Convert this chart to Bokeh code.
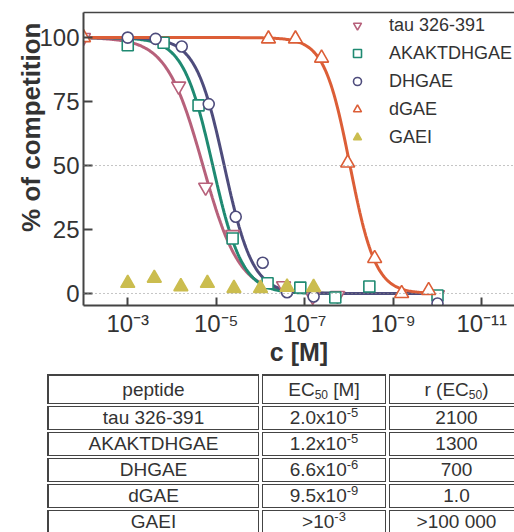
import numpy as np
from bokeh.plotting import figure
from bokeh.layouts import column
from bokeh.models import (Range1d, FixedTicker, CustomJSTickFormatter, Span, Legend,
                          LegendItem, LogAxis, Title, Div)
from bokeh.embed import file_html
from bokeh.resources import INLINE

FONT = "Liberation Sans"
TXT = "#333333"
AX = "#444444"

# ---------------- data ----------------
peptides = ["tau 326-391", "AKAKTDHGAE", "DHGAE", "dGAE", "GAEI"]
colors = ["#b7617b", "#1f8a72", "#4e4c7c", "#dc5e37", "#cbbd4f"]
markers = ["inverted_triangle", "square", "circle", "triangle", "triangle"]

# log10 of concentration [M] and % of competition
tau_logc = [-2.0, -4.15, -4.76, -5.37, -6.52, -7.18, -7.74, -10.0]
tau_pct = [100, 81, 41.5, 23, 3, -1.2, -0.8, -0.5]
akak_logc = [-3.0, -3.81, -4.6, -5.37, -6.16, -6.9, -7.69, -8.46, -10.0]
akak_pct = [97, 98, 73.5, 21.5, 4, 2.3, -1.6, 2.7, -0.8]
dhgae_logc = [-3.0, -3.63, -4.22, -4.83, -5.44, -6.05, -6.6, -7.2, -10.0]
dhgae_pct = [100, 99.5, 96.5, 74, 30, 12, 0.5, -1.2, -3.9]
dgae_logc = [-2.0, -6.18, -6.79, -7.38, -7.97, -8.58, -9.19, -9.8]
dgae_pct = [100, 99.5, 99.5, 92, 51, 13.7, 0, 1.2]
gaei_logc = [-3.0, -3.6, -4.2, -4.8, -5.4, -6.0, -6.6, -7.2]
gaei_pct = [4, 6, 2.7, 4, 2, 2, 2.5, 2.4]

# fitted dose-response parameters (EC50 [M], Hill slope) for the curves
fit_ec50 = [2.0e-5, 1.2e-5, 6.6e-6, 9.5e-9]
fit_hill = [1.05, 1.3, 1.35, 1.5]
fit_range = [-2.0, -9.85]

x_ticks = [1e-3, 1e-5, 1e-7, 1e-9, 1e-11]
y_ticks = [0, 25, 50, 75, 100]

SUB = "<sub style='font-size:12px; line-height:0; vertical-align:-3px;'>"
SUP = "<sup style='font-size:13px; line-height:0; vertical-align:7px;'>"
table_header = ["peptide", f"EC{SUB}50</sub> [M]", f"r (EC{SUB}50</sub>)"]
table_ec50 = [f"2.0x10{SUP}-5</sup>", f"1.2x10{SUP}-5</sup>", f"6.6x10{SUP}-6</sup>",
              f"9.5x10{SUP}-9</sup>", f"&gt;10{SUP}-3</sup>"]
table_r = ["2100", "1300", "700", "1.0", "&gt;100 000"]

series_x = [tau_logc, akak_logc, dhgae_logc, dgae_logc, gaei_logc]
series_y = [tau_pct, akak_pct, dhgae_pct, dgae_pct, gaei_pct]

# ---------------- chart ----------------
p = figure(width=514, height=372, x_axis_type="log",
           x_range=Range1d(10 ** -2.0, 10 ** -11.74), y_range=Range1d(-4.7, 109.8),
           output_backend="svg", toolbar_location=None,
           min_border_left=83, min_border_right=0, min_border_top=12, min_border_bottom=67)
p.outline_line_color = None
p.xgrid.visible = False
p.ygrid.visible = False
p.background_fill_color = "white"
p.border_fill_color = "white"

for yv in (0, 50):
    p.add_layout(Span(location=yv, dimension="width", line_color="#8a8a8a",
                      line_dash="1 3", line_width=1))

# fitted curves
lc = np.linspace(fit_range[0], fit_range[1], 300)
for ec, nh, col in zip(fit_ec50, fit_hill, colors):
    yc = 100.0 / (1.0 + 10 ** (nh * (np.log10(ec) - lc)))
    p.line(10 ** lc, yc, line_color=col, line_width=3)

items = []
sizes = [14, 11, 11, 14, 14]
for i, (name, col, mk) in enumerate(zip(peptides, colors, markers)):
    xs = [10 ** v for v in series_x[i]]
    filled = (name == "GAEI")
    r = p.scatter(xs, series_y[i], marker=mk, size=sizes[i], line_color=col,
                  fill_color=col if filled else "white", line_width=1.6)
    items.append(LegendItem(label=name, renderers=[r]))

legend = Legend(items=items, location=(264, 157), orientation="vertical",
                background_fill_alpha=0, border_line_color=None,
                label_text_font=FONT, label_text_font_size="18px", label_text_color=TXT,
                glyph_width=20, glyph_height=22, label_height=22, label_standoff=22,
                spacing=6, padding=0, margin=0)
p.add_layout(legend, "center")

xa = p.xaxis[0]
xa.ticker = FixedTicker(ticks=x_ticks)
xa.formatter = CustomJSTickFormatter(code="""
const e = Math.round(Math.log10(tick));
const sup = {"-":"\u207b","0":"\u2070","1":"\u00b9","2":"\u00b2","3":"\u00b3","4":"\u2074",
             "5":"\u2075","6":"\u2076","7":"\u2077","8":"\u2078","9":"\u2079"};
return "10" + String(e).split("").map(c => sup[c]).join("");
""")
xa.axis_label = "c [M]"
ya = p.yaxis[0]
ya.ticker = FixedTicker(ticks=y_ticks)

for ax in (xa, ya):
    ax.axis_line_color = AX
    ax.axis_line_width = 2
    ax.major_tick_line_color = AX
    ax.major_tick_line_width = 2
    ax.major_tick_out = 0
    ax.minor_tick_out = 0
    ax.minor_tick_in = 0
    ax.major_label_text_font = FONT
    ax.major_label_text_font_size = "24px"
    ax.major_label_text_color = TXT
    ax.axis_label_text_font = FONT
    ax.axis_label_text_font_size = "25px"
    ax.axis_label_text_font_style = "bold"
    ax.axis_label_text_color = TXT
xa.major_tick_in = 8
ya.major_tick_in = 9
xa.major_label_standoff = 4
xa.axis_label_standoff = -2
ya.major_label_standoff = 4

ytitle = Title(text="% of competition", align="right", vertical_align="bottom",
               offset=10, standoff=-18, text_font=FONT, text_font_size="26px",
               text_font_style="bold", text_color=TXT)
p.add_layout(ytitle, "left")

top = LogAxis(ticker=FixedTicker(ticks=[]), axis_line_color=AX, axis_line_width=1.5,
              major_tick_in=0, major_tick_out=0, minor_tick_in=0, minor_tick_out=0,
              major_label_standoff=0, major_label_text_font_size="0px")
p.add_layout(top, "above")

# ---------------- table ----------------
base = ("border:1px solid #444; padding:0; text-align:center; vertical-align:middle; "
        "font-family:'Liberation Sans'; font-size:19px; color:#333; white-space:nowrap; "
        "overflow:hidden;")
col_w = [210, 122, 133]
rows = [table_header] + [[a, b, c] for a, b, c in zip(peptides, table_ec50, table_r)]
html = ["<table style='border-collapse:separate; border-spacing:3px 2px; table-layout:fixed; "
        "width:483px; margin:0 0 0 44px; padding:0; border:none;'>"]
html.append("<colgroup>" + "".join(f"<col style='width:{w + 2}px'>" for w in col_w)
            + "</colgroup>")
for ri, row in enumerate(rows):
    h = 27 if ri == 0 else 22
    html.append("<tr>")
    for ci, txt in enumerate(row):
        st = base + f"height:{h}px; line-height:{h}px;"
        if ri == 0:
            st += "border-top:2px solid #444;"
        if ci == 0:
            st += "border-left:2px solid #444;"
        html.append(f"<td style=\"{st}\">{txt}</td>")
    html.append("</tr>")
html.append("</table>")
div = Div(text="".join(html), width=514, height=160,
          styles={"overflow": "hidden", "margin": "0", "padding": "0"})

layout = column(p, div, spacing=0)
open("out.html", "w").write(file_html(layout, INLINE))
